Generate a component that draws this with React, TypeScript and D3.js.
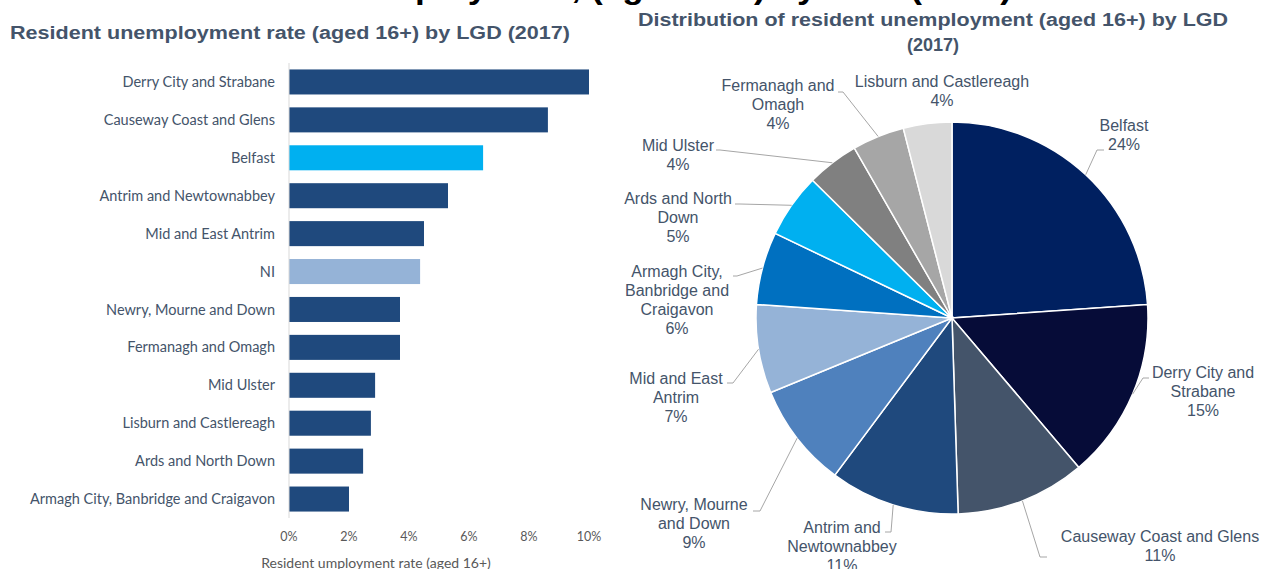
import React, { useRef, useEffect } from 'react'
import * as d3 from 'd3'

// bar chart: unemployment rate by LGD
const barNames = [
  'Derry City and Strabane',
  'Causeway Coast and Glens',
  'Belfast',
  'Antrim and Newtownabbey',
  'Mid and East Antrim',
  'NI',
  'Newry, Mourne and Down',
  'Fermanagh and Omagh',
  'Mid Ulster',
  'Lisburn and Castlereagh',
  'Ards and North Down',
  'Armagh City, Banbridge and Craigavon',
]
const barRates = [0.1, 0.0863, 0.0647, 0.053, 0.045, 0.0437, 0.037, 0.037, 0.0287, 0.0273, 0.0247, 0.02]
const rateTicks = [0, 0.02, 0.04, 0.06, 0.08, 0.1]

// pie chart: share of unemployed residents
const pieNames = [
  'Belfast',
  'Derry City and Strabane',
  'Causeway Coast and Glens',
  'Antrim and Newtownabbey',
  'Newry, Mourne and Down',
  'Mid and East Antrim',
  'Armagh City, Banbridge and Craigavon',
  'Ards and North Down',
  'Mid Ulster',
  'Fermanagh and Omagh',
  'Lisburn and Castlereagh',
]
const pieShares = [23.9, 14.9, 10.7, 10.7, 8.6, 7.3, 6.0, 5.3, 4.3, 4.3, 4.0]
const pieColors = ['#002060', '#060c38', '#44546a', '#1f497d', '#4f81bd', '#95b3d7', '#0070c0', '#00b0f0', '#808080', '#a6a6a6', '#d9d9d9']

// how Excel wrapped and placed the data labels (x, first baseline, leader elbow, leader end)
const pieLabelLayout = [
  { lines: ['Belfast'], x: 1124, y: 131, elbow: [1097, 150], end: [1104, 150] },
  { lines: ['Derry City and', 'Strabane'], x: 1203, y: 378, elbow: [1143, 378], end: [1149, 378] },
  { lines: ['Causeway Coast and Glens'], x: 1160, y: 542, elbow: [1040, 557], end: [1047, 557] },
  { lines: ['Antrim and', 'Newtownabbey'], x: 842, y: 533, elbow: [891, 532], end: [885, 532] },
  { lines: ['Newry, Mourne', 'and Down'], x: 694, y: 510, elbow: [760, 511], end: [753, 511] },
  { lines: ['Mid and East', 'Antrim'], x: 676, y: 384, elbow: [733, 383], end: [727, 383] },
  { lines: ['Armagh City,', 'Banbridge and', 'Craigavon'], x: 677, y: 277, elbow: [737, 276], end: [733, 276] },
  { lines: ['Ards and North', 'Down'], x: 678, y: 204, elbow: [740, 204], end: [735, 204] },
  { lines: ['Mid Ulster'], x: 678, y: 151, elbow: [720, 150], end: [716, 150] },
  { lines: ['Fermanagh and', 'Omagh'], x: 778, y: 91, elbow: [843, 92], end: [838, 92] },
  { lines: ['Lisburn and Castlereagh'], x: 942, y: 87, elbow: null, end: null },
]

const W = 1261
const H = 569
const titleColor = '#44546a'
const labelColor = '#44546a'

export default function App() {
  const ref = useRef<SVGSVGElement>(null)

  useEffect(() => {
    const svg = d3.select(ref.current)
    svg.selectAll('*').remove()

    // big slide title, mostly off the top edge
    svg.append('text')
      .attr('x', 163).attr('y', -2)
      .attr('textLength', 849).attr('lengthAdjust', 'spacingAndGlyphs')
      .style('font-family', 'Liberation Sans, Arial, sans-serif')
      .style('font-weight', 'bold')
      .style('font-size', '32px')
      .attr('fill', '#000')
      .text('Resident unemployment, (aged 16+) by LGD (2017)')

    // ---- bar chart ----
    svg.append('text')
      .attr('x', 10).attr('y', 39)
      .attr('textLength', 560).attr('lengthAdjust', 'spacingAndGlyphs')
      .style('font-family', 'Liberation Sans, Arial, sans-serif')
      .style('font-weight', 'bold')
      .style('font-size', '18px')
      .attr('fill', titleColor)
      .text('Resident unemployment rate (aged 16+) by LGD (2017)')

    const x = d3.scaleLinear().domain([0, 0.1]).range([289, 589])
    const y = d3.scaleBand().domain(barNames).range([63, 518]).paddingInner(0.34).paddingOuter(0.17)

    const bars = svg.append('g')
    bars.selectAll('rect').data(barNames).join('rect')
      .attr('x', x(0))
      .attr('y', d => y(d)!)
      .attr('width', (d, i) => x(barRates[i]) - x(0))
      .attr('height', y.bandwidth())
      .attr('fill', d => d === 'Belfast' ? '#00b0f0' : d === 'NI' ? '#95b3d7' : '#1f497d')

    svg.append('line')
      .attr('x1', x(0)).attr('x2', x(0))
      .attr('y1', 63).attr('y2', 518)
      .attr('stroke', '#d9d9d9').attr('stroke-width', 1)

    bars.selectAll('text').data(barNames).join('text')
      .attr('x', 275)
      .attr('y', d => y(d)! + y.bandwidth() / 2)
      .attr('dy', '0.35em')
      .attr('text-anchor', 'end')
      .style('font-family', 'Lato, sans-serif')
      .style('font-size', '14.5px')
      .attr('fill', labelColor)
      .text(d => d)

    svg.append('g').selectAll('text').data(rateTicks).join('text')
      .attr('x', d => x(d))
      .attr('y', 541)
      .attr('text-anchor', 'middle')
      .style('font-family', 'Lato, sans-serif')
      .style('font-size', '12.5px')
      .attr('fill', '#595959')
      .text(d => d3.format('.0%')(d))

    svg.append('text')
      .attr('x', 376).attr('y', 568)
      .attr('text-anchor', 'middle')
      .style('font-family', 'Lato, sans-serif')
      .style('font-size', '14px')
      .attr('fill', '#595959')
      .text('Resident umployment rate (aged 16+)')

    // ---- pie chart ----
    const pieTitle = svg.append('text')
      .attr('text-anchor', 'middle')
      .style('font-family', 'Liberation Sans, Arial, sans-serif')
      .style('font-weight', 'bold')
      .style('font-size', '18px')
      .attr('fill', titleColor)
    pieTitle.append('tspan').attr('x', 933).attr('y', 26)
      .attr('textLength', 590).attr('lengthAdjust', 'spacingAndGlyphs')
      .text('Distribution of resident unemployment (aged 16+) by LGD')
    pieTitle.append('tspan').attr('x', 933).attr('y', 51)
      .text('(2017)')

    const cx = 952, cy = 318, r = 196
    const total = d3.sum(pieShares)
    const pieData = d3.pie<number>().sort(null).value(d => d)(pieShares)
    const arc = d3.arc<d3.PieArcDatum<number>>().innerRadius(0).outerRadius(r)
    const edge = d3.arc<d3.PieArcDatum<number>>().innerRadius(r).outerRadius(r)

    const g = svg.append('g').attr('transform', `translate(${cx},${cy})`)
    g.selectAll('path').data(pieData).join('path')
      .attr('d', arc)
      .attr('fill', (d, i) => pieColors[i])
      .attr('stroke', 'white')
      .attr('stroke-width', 1.5)

    // leader lines
    pieData.forEach((d, i) => {
      const lay = pieLabelLayout[i]
      if (!lay.elbow) return
      const [sx, sy] = edge.centroid(d)
      svg.append('polyline')
        .attr('points', [[cx + sx, cy + sy], lay.elbow, lay.end].map(p => p!.join(',')).join(' '))
        .attr('fill', 'none')
        .attr('stroke', '#a6a6a6')
        .attr('stroke-width', 1)
    })

    // data labels: name + percent
    pieData.forEach((d, i) => {
      const lay = pieLabelLayout[i]
      const t = svg.append('text')
        .attr('text-anchor', 'middle')
        .style('font-family', 'Liberation Sans, Arial, sans-serif')
        .style('font-size', '16px')
        .attr('fill', labelColor)
      const lines = [...lay.lines, d3.format('.0%')(d.data / total)]
      lines.forEach((s, k) => {
        t.append('tspan').attr('x', lay.x).attr('y', lay.y + k * 19).text(s)
      })
    })
  }, [])

  return (
    <div style={{ position: 'absolute', left: 0, top: 0 }}>
      <svg ref={ref} width={W} height={H} style={{ display: 'block', background: '#fff' }} />
    </div>
  )
}
